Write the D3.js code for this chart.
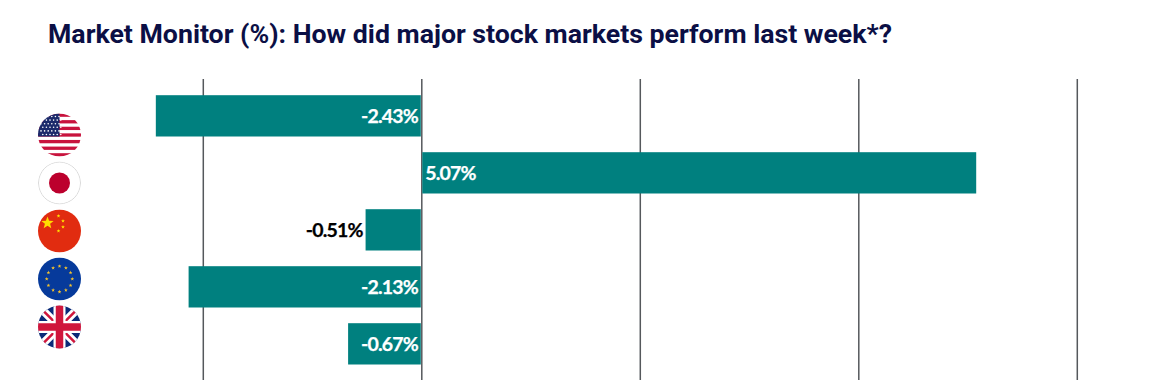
<!DOCTYPE html>
<html>
<head>
<meta charset="utf-8">
<script src="https://cdn.jsdelivr.net/npm/d3@7"></script>
<style>
  html, body { margin: 0; padding: 0; background: #fff; overflow: hidden; }
  .title { font-family: Roboto, sans-serif; font-weight: 700; font-size: 26.7px; fill: #0b0f45; }
  .bar-label { font-family: Lato, sans-serif; font-weight: 700; font-size: 19.5px; letter-spacing: -0.85px; stroke-width: 0.25px; }
</style>
</head>
<body>
<svg id="chart" width="1159" height="392"></svg>
<script>
var markets = ["US", "Japan", "China", "Eurozone", "UK"];
var weekly_change = [-2.43, 5.07, -0.51, -2.13, -0.67];
var tick_values = [-2, 0, 2, 4, 6];

var title_text = "Market Monitor (%): How did major stock markets perform last week*?";

var teal = "#00807f";
var formatPct = function (d) { return d.toFixed(2) + "%"; };

var svg = d3.select("#chart");

svg.append("text")
    .attr("class", "title")
    .attr("x", 48)
    .attr("y", 43)
    .text(title_text);

var x = d3.scaleLinear().domain([-2, 6]).range([202.8, 1076.8]);

var y = d3.scaleBand()
    .domain(markets)
    .range([87, 372])
    .paddingInner(16 / 57)
    .paddingOuter(8 / 57);

//  flags sit on their own tighter spacing, they don't line up with the bars
var flagY = d3.scalePoint().domain(markets).range([135, 327]);

//  gridlines
var axis = d3.axisBottom(x).tickValues(tick_values).tickSize(301).tickFormat("");

var gAxis = svg.append("g")
    .attr("transform", "translate(0,79)")
    .call(axis);

gAxis.select(".domain").remove();

gAxis.selectAll(".tick line")
    .attr("stroke", "#55585c")
    .attr("stroke-width", 1.5);

//  bars
var data = markets.map(function (m, i) {
    return { market: m, value: weekly_change[i] };
});

svg.selectAll("rect.bar")
    .data(data)
    .enter()
    .append("rect")
    .attr("class", "bar")
    .attr("x", function (d) { return d.value < 0 ? x(d.value) : x(0) + 1; })
    .attr("y", function (d) { return y(d.market) + 0.2; })
    .attr("width", function (d) { return d.value < 0 ? x(0) - 0.5 - x(d.value) : x(d.value) - x(0); })
    .attr("height", y.bandwidth() + 0.3)
    .attr("fill", teal);

//  labels go inside the bar unless the bar is too short
svg.selectAll("text.bar-label")
    .data(data)
    .enter()
    .append("text")
    .attr("class", "bar-label")
    .attr("y", function (d) { return y(d.market) + y.bandwidth() / 2 + 7.5; })
    .attr("x", function (d) {
        if (d.value > 0) return x(0) + 4;
        return Math.abs(d.value) < 0.6 ? x(d.value) - 3 : x(0) - 3.5;
    })
    .attr("text-anchor", function (d) { return d.value > 0 ? "start" : "end"; })
    .attr("fill", function (d) { return Math.abs(d.value) < 0.6 ? "#000" : "#fff"; })
    .attr("stroke", function (d) { return Math.abs(d.value) < 0.6 ? "#000" : "#fff"; })
    .text(function (d) { return formatPct(d.value); });

//  flags
var R = 21.5;
var defs = svg.append("defs");

defs.append("clipPath")
    .attr("id", "flag-clip")
    .append("circle")
    .attr("r", R);

function starPath(r) {
    var pts = d3.range(10).map(function (i) {
        var a = i * Math.PI / 5 - Math.PI / 2;
        var rad = i % 2 ? r * 0.42 : r;
        return [rad * Math.cos(a), rad * Math.sin(a)];
    });
    return "M" + pts.join("L") + "Z";
}

function drawUS(g) {
    g.append("rect").attr("x", -R).attr("y", -R).attr("width", 2 * R).attr("height", 2 * R).attr("fill", "#fff");
    d3.range(7).forEach(function (i) {
        g.append("rect")
            .attr("x", -R).attr("y", -R + i * 2 * R / 6.5)
            .attr("width", 2 * R).attr("height", 2 * R / 13)
            .attr("fill", "#c8133d");
    });
    g.append("rect").attr("x", -R).attr("y", -R).attr("width", R).attr("height", 23).attr("fill", "#1c2a6b");
    d3.range(6).forEach(function (row) {
        d3.range(6).forEach(function (col) {
            g.append("circle")
                .attr("cx", -R + 3 + col * 3.6 + (row % 2 ? 1.8 : 0))
                .attr("cy", -R + 3 + row * 3.6)
                .attr("r", 0.8)
                .attr("fill", "#fff");
        });
    });
}

function drawJapan(g) {
    g.append("circle").attr("r", R - 0.5).attr("fill", "#fff").attr("stroke", "#d9d9d9").attr("stroke-width", 1);
    g.append("circle").attr("r", 10.5).attr("fill", "#bc002d");
}

function drawChina(g) {
    g.append("rect").attr("x", -R).attr("y", -R).attr("width", 2 * R).attr("height", 2 * R).attr("fill", "#e12c10");
    g.append("path").attr("d", starPath(6.5)).attr("transform", "translate(-12,-8)").attr("fill", "#ffde00");
    [[-1, -15], [3.5, -10], [3.5, -4], [-1, 0]].forEach(function (p) {
        g.append("path").attr("d", starPath(2)).attr("transform", "translate(" + p + ")").attr("fill", "#ffde00");
    });
}

function drawEU(g) {
    g.append("rect").attr("x", -R).attr("y", -R).attr("width", 2 * R).attr("height", 2 * R).attr("fill", "#063a9b");
    d3.range(12).forEach(function (i) {
        var a = i * Math.PI / 6;
        g.append("path")
            .attr("d", starPath(2))
            .attr("transform", "translate(" + (12.8 * Math.sin(a)) + "," + (-12.8 * Math.cos(a)) + ")")
            .attr("fill", "#f2c12e");
    });
}

function drawUK(g) {
    g.append("rect").attr("x", -R).attr("y", -R).attr("width", 2 * R).attr("height", 2 * R).attr("fill", "#0a2a78");
    g.append("path").attr("d", "M-22,-22L22,22M22,-22L-22,22").attr("stroke", "#fff").attr("stroke-width", 8);
    g.append("path").attr("d", "M-22,-22L22,22M22,-22L-22,22").attr("stroke", "#d0163c").attr("stroke-width", 2.5);
    g.append("path").attr("d", "M0,-22V22M-22,0H22").attr("stroke", "#fff").attr("stroke-width", 12);
    g.append("path").attr("d", "M0,-22V22M-22,0H22").attr("stroke", "#d0163c").attr("stroke-width", 7.5);
}

var flagDrawers = { "US": drawUS, "Japan": drawJapan, "China": drawChina, "Eurozone": drawEU, "UK": drawUK };

markets.forEach(function (m) {
    var g = svg.append("g")
        .attr("transform", "translate(59.5," + flagY(m) + ")")
        .attr("clip-path", "url(#flag-clip)");
    flagDrawers[m](g);
});
</script>
</body>
</html>
